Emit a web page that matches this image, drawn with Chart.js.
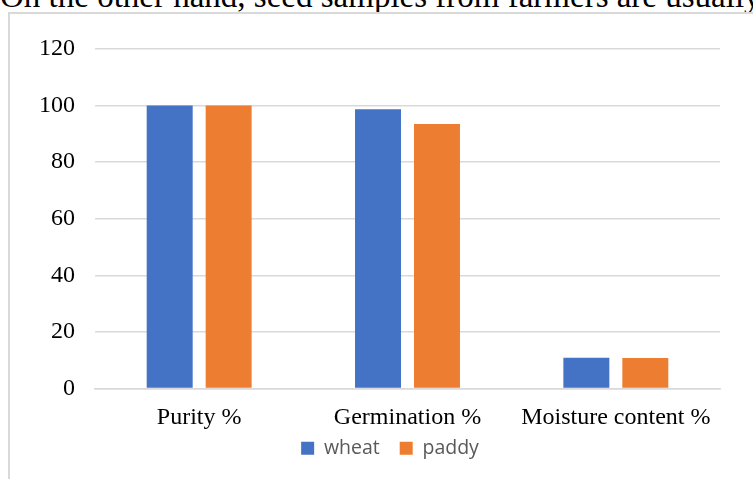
<!DOCTYPE html>
<html>
<head>
<meta charset="utf-8">
<script src="https://cdn.jsdelivr.net/npm/chart.js@4"></script>
<style>
  body { margin: 0; width: 753px; height: 479px; overflow: hidden; background: #fff; position: relative; }
  .lead {
    position: absolute; left: 0; top: -23px; white-space: nowrap;
    font-family: "Liberation Serif", serif; font-size: 33px; color: #000; line-height: 38px;
  }
  .frame {
    position: absolute; left: 8px; top: 12px; width: 760px; height: 480px;
    border-left: 2px solid #d9d9d9; border-top: 2px solid #d9d9d9;
  }
  .box { position: absolute; left: 10px; top: 14px; width: 743px; height: 465px; }
</style>
</head>
<body>
<div class="lead">On the other hand, seed samples from farmers are usually</div>
<div class="frame"></div>
<div class="box"><canvas id="myChart"></canvas></div>
<script>
var categories = ["Purity %", "Germination %", "Moisture content %"];
var wheat = [100, 98.7, 10.9];
var paddy = [100, 93.5, 10.8];
var yTicks = [0, 20, 40, 60, 80, 100, 120];

var serif = "'Liberation Serif', 'Times New Roman', serif";

// pull the legend up under the category labels and centre it under the bars
var legendNudge = {
  id: 'legendNudge',
  afterLayout: function (chart) {
    var lg = chart.legend;
    lg.top -= 14; lg.bottom -= 14;
    lg.left += 25; lg.right += 25;
  }
};

var myChart = new Chart(document.getElementById("myChart"), {
  type: 'bar',
  data: {
    labels: categories,
    datasets: [
      { label: "wheat", data: wheat, backgroundColor: "#4472C4" },
      { label: "paddy", data: paddy, backgroundColor: "#ED7D31" }
    ]
  },
  plugins: [legendNudge],
  options: {
    responsive: true,
    maintainAspectRatio: false,
    animation: false,
    datasets: { bar: { categoryPercentage: 0.566, barPercentage: 0.78 } },
    layout: { padding: { left: 0, right: 33, top: 35, bottom: -3 } },
    plugins: {
      tooltip: { enabled: false },
      legend: {
        position: 'bottom',
        labels: {
          boxWidth: 13, boxHeight: 13, padding: 20,
          color: "#595959",
          font: { family: "'Open Sans', sans-serif", size: 19.5 }
        }
      }
    },
    scales: {
      x: {
        grid: { display: false, drawTicks: false },
        border: { color: "#d9d9d9", width: 1.5 },
        ticks: { color: "#000", padding: 15, font: { family: serif, size: 24 } },
        afterFit: function (s) { s.height = 44; }
      },
      y: {
        min: 0, max: 120,
        afterBuildTicks: function (s) { s.ticks = yTicks.map(function (v) { return { value: v }; }); },
        grid: { color: "#d9d9d9", lineWidth: 1.5, drawTicks: false },
        border: { display: false },
        ticks: { color: "#000", padding: 20, font: { family: serif, size: 24 } },
        afterFit: function (s) { s.width = 85; }
      }
    }
  }
});
</script>
</body>
</html>
